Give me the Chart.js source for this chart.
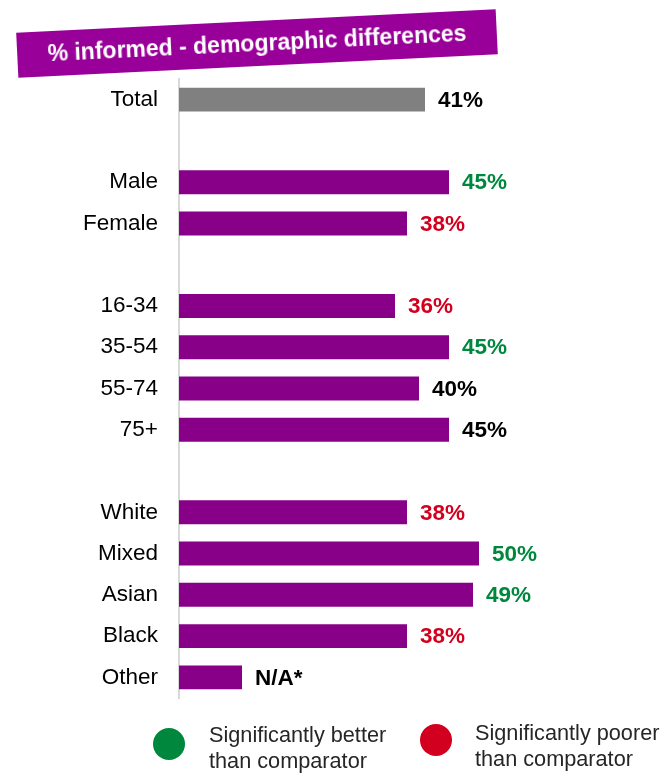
<!DOCTYPE html>
<html>
<head>
<meta charset="utf-8">
<script src="https://cdn.jsdelivr.net/npm/chart.js@4"></script>
<style>
  body { margin: 0; background: #fff; font-family: "Liberation Sans", Arial, sans-serif; }
  #wrap { position: relative; width: 669px; height: 773px; }
  #banner {
    position: absolute; left: 17px; top: 21px; width: 480px; height: 45px;
    background: #990099; color: #fff; font-weight: bold; font-size: 23px;
    display: flex; align-items: center; justify-content: center;
    transform: rotate(-2.8deg);
  }
  .dot { position: absolute; width: 32px; height: 32px; border-radius: 50%; }
  .key { position: absolute; font-size: 21.7px; line-height: 26px; color: #262626; }
</style>
</head>
<body>
<div id="wrap">
  <canvas id="myChart"></canvas>
  <div id="banner">% informed - demographic differences</div>
  <div class="dot" style="left:153px; top:728px; background:#00873e;"></div>
  <div class="key" style="left:209px; top:722px;">Significantly better<br>than comparator</div>
  <div class="dot" style="left:420px; top:724px; background:#d2001e;"></div>
  <div class="key" style="left:475px; top:720px;">Significantly poorer<br>than comparator</div>
</div>
<script>
// blank rows keep the groups apart
const categories = ['Total', ' ', 'Male', 'Female', '  ', '16-34', '35-54', '55-74', '75+', '   ', 'White', 'Mixed', 'Asian', 'Black', 'Other'];
const informed = [41, null, 45, 38, null, 36, 45, 40, 45, null, 38, 50, 49, 38, 10.5];
const valueLabels = ['41%', '', '45%', '38%', '', '36%', '45%', '40%', '45%', '', '38%', '50%', '49%', '38%', 'N/A*'];
const significance = ['none', '', 'better', 'poorer', '', 'poorer', 'better', 'none', 'none', '', 'poorer', 'better', 'better', 'poorer', 'none'];

const sigColours = { better: '#00873e', poorer: '#d2001e', none: '#000000' };
const barColours = categories.map(c => c === 'Total' ? '#808080' : '#880088');

const valueLabelPlugin = {
  id: 'valueLabels',
  afterDatasetsDraw(chart) {
    const ctx = chart.ctx;
    const meta = chart.getDatasetMeta(0);
    ctx.save();
    ctx.font = 'bold 22.5px "Liberation Sans", Arial, sans-serif';
    ctx.textBaseline = 'middle';
    ctx.textAlign = 'left';
    meta.data.forEach((bar, i) => {
      if (!valueLabels[i]) return;
      ctx.fillStyle = sigColours[significance[i]];
      ctx.fillText(valueLabels[i], bar.x + 13, bar.y + 1);
    });
    ctx.restore();
  }
};

const ctx = document.getElementById('myChart');

new Chart(ctx, {
  type: 'bar',
  data: {
    labels: categories,
    datasets: [{
      data: informed,
      backgroundColor: barColours,
      barPercentage: 0.58,
      categoryPercentage: 1
    }]
  },
  options: {
    indexAxis: 'y',
    responsive: true,
    maintainAspectRatio: false,
    animation: false,
    layout: { padding: { top: 79, bottom: 75, left: 0, right: 10 } },
    plugins: {
      legend: { display: false },
      tooltip: { enabled: false }
    },
    scales: {
      x: { display: false, min: 0, max: 80 },
      y: {
        grid: { display: false },
        border: { display: true, color: '#d9d9d9', width: 2 },
        ticks: {
          padding: 13,
          color: '#000',
          font: { family: '"Liberation Sans", Arial, sans-serif', size: 22.5 }
        },
        afterFit(scale) { scale.width = 179; }
      }
    }
  },
  plugins: [valueLabelPlugin]
});
</script>
</body>
</html>
